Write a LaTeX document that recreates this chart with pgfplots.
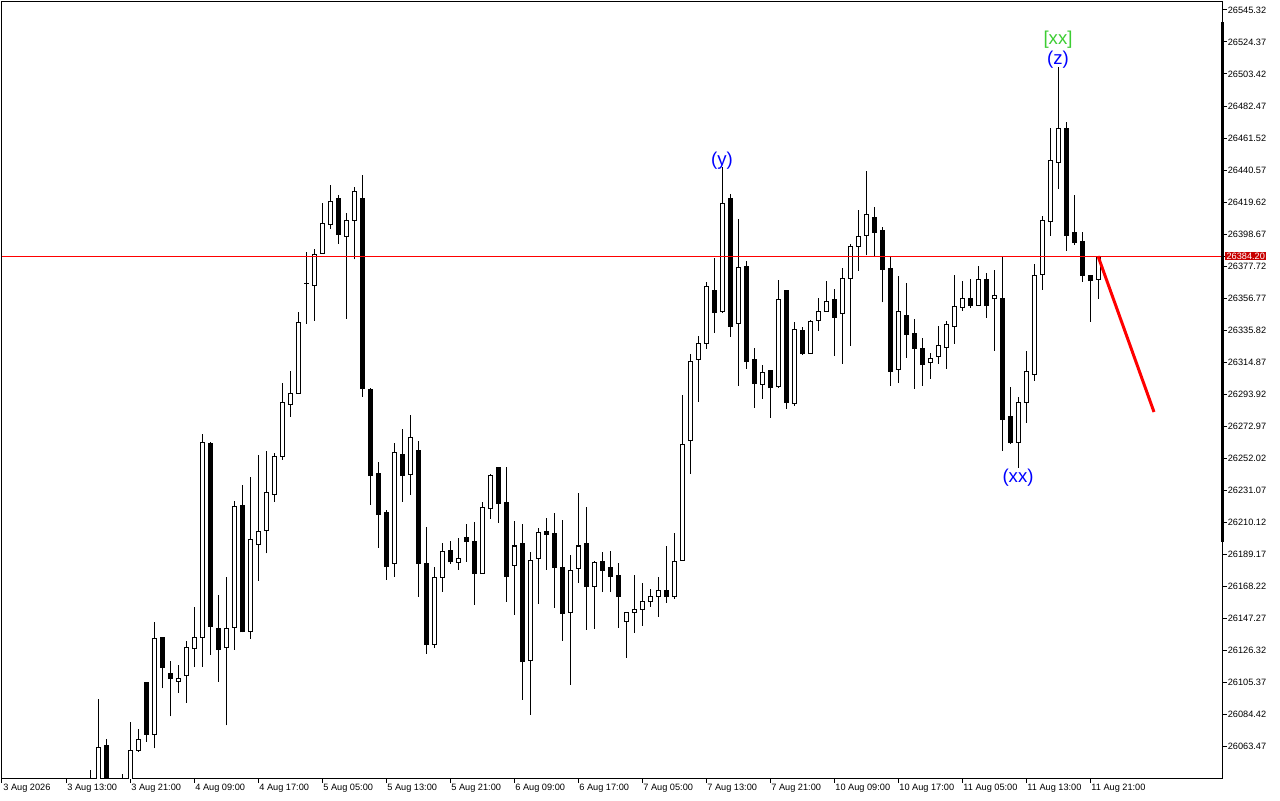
\documentclass[border=0pt]{standalone}
\usepackage{pgfplots}
\pgfplotsset{compat=1.18}
\usepackage{pgfplotstable}
\usepackage{fontspec}
\setmainfont{Liberation Sans}
\definecolor{mtred}{RGB}{200,0,0}
\definecolor{wavegreen}{RGB}{60,205,50}

% hourly candles, i = bar number (3 Aug 13:00 = -3)
\pgfplotstableread{
i o h l c
0 26038 26047.76 26025 26032
1 26035 26094.44 26028 26062.62
2 26064.12 26068.06 26022 26030
3 26030 26038 26020 26026
4 26032 26044.94 26025 26036
5 26040 26079.19 26035 26060.66
6 26060.66 26074.60 26059.55 26067.86
7 26105.37 26105.37 26066.29 26071.13
8 26071.13 26144.85 26061.97 26133.98
9 26134.83 26134.83 26101.25 26114.74
10 26110.61 26119.12 26082.91 26107.54
11 26105.83 26116.50 26098.37 26107.99
12 26109.50 26132.41 26091.82 26128.09
13 26127.18 26154.47 26115.19 26134.64
14 26134.37 26267.74 26115.39 26262.30
15 26261.84 26262.50 26123.25 26141.58
16 26140.53 26162.33 26105.57 26126.52
17 26127.83 26174.12 26077.03 26140.53
18 26141.19 26223.87 26126.52 26220.40
19 26221.06 26234.35 26137.91 26138.11
20 26138.57 26239.58 26133.72 26198.99
21 26195.52 26253.99 26171.70 26204.03
22 26204.69 26256.61 26189.63 26229.76
23 26228.26 26255.30 26223.42 26253.33
24 26253.13 26301.12 26250.91 26288.49
25 26287.18 26308.98 26279.06 26294.38
26 26294.38 26347.41 26294.38 26340.86
27 26366.14 26386.69 26339.95 26366.40
28 26364.83 26388.85 26341.91 26385.38
29 26386.04 26418.97 26386.04 26405.68
30 26405.02 26430.75 26402.14 26420.08
31 26422.05 26424.21 26392.32 26398.22
32 26397.17 26412.42 26343.22 26407.38
33 26407.64 26429.25 26382.11 26426.63
34 26422.05 26437.30 26292.16 26297.39
35 26297.00 26297.65 26221.45 26240.44
36 26241.55 26249.21 26193.30 26214.91
37 26216.02 26217.98 26172.35 26180.86
38 26183.09 26261.65 26174.31 26255.75
39 26254.45 26271.01 26223.42 26240.44
40 26241.35 26279.98 26228.00 26265.58
41 26256.61 26263.15 26161.22 26182.83
42 26183.28 26206.85 26123.91 26129.80
43 26130.06 26180.66 26127.83 26173.92
44 26173.92 26196.18 26164.49 26190.94
45 26191.59 26197.68 26182.83 26183.94
46 26183.74 26199.65 26178.90 26186.36
47 26200.30 26208.81 26183.94 26197.23
48 26197.68 26210.13 26155.98 26176.28
49 26176.28 26223.22 26176.28 26219.74
50 26218.83 26241.55 26212.29 26240.70
51 26245.48 26245.48 26209.67 26222.11
52 26222.57 26246.13 26157.75 26174.31
53 26181.78 26210.78 26149.43 26194.41
54 26195.72 26208.81 26093.79 26118.67
55 26119.58 26190.48 26083.97 26185.24
56 26186.10 26206.20 26156.64 26202.93
57 26203.58 26212.94 26178.90 26201.81
58 26202.27 26216.02 26154.02 26180.21
59 26180.66 26211.43 26132.41 26150.09
60 26151.01 26188.72 26103.61 26178.51
61 26179.81 26229.11 26170.39 26194.41
62 26195.72 26219.94 26139.42 26167.77
63 26167.77 26184.59 26140.27 26183.74
64 26184.40 26190.48 26164.29 26178.24
65 26180.01 26191.14 26164.29 26174.31
66 26175.42 26183.28 26140.92 26161.22
67 26144.85 26151.01 26121.09 26151.01
68 26151.01 26175.42 26137.65 26152.97
69 26152.97 26170.19 26142.23 26158.21
70 26157.95 26166.06 26154.67 26161.48
71 26161.22 26174.12 26148.12 26165.41
72 26165.41 26194.41 26157.29 26161.22
73 26161.22 26202.93 26159.91 26184.40
74 26185.05 26293.08 26185.05 26260.99
75 26263.35 26320.11 26241.74 26315.33
76 26316.64 26331.89 26288.88 26327.11
77 26327.11 26367.25 26323.58 26364.43
78 26361.81 26382.96 26334.06 26347.15
79 26347.80 26442.34 26347.15 26418.77
80 26422.05 26424.86 26331.44 26337.98
81 26340.21 26408.30 26299.36 26376.87
82 26377.53 26381.00 26310.49 26315.07
83 26316.64 26323.84 26284.95 26300.67
84 26300.27 26312.71 26290.85 26308.13
85 26308.98 26309.64 26278.41 26298.05
86 26298.70 26368.56 26298.05 26355.92
87 26361.36 26361.36 26284.30 26288.23
88 26287.58 26340.86 26286.27 26336.28
89 26335.82 26337.98 26319.65 26320.31
90 26320.57 26342.17 26320.57 26341.52
91 26342.17 26356.77 26335.36 26348.07
92 26348.07 26367.90 26348.07 26354.61
93 26355.92 26362.67 26319.00 26343.88
94 26346.50 26376.41 26313.76 26369.67
95 26369.67 26391.93 26325.54 26390.62
96 26390.62 26414.19 26374.65 26397.17
97 26397.82 26439.72 26384.73 26411.57
98 26409.61 26416.15 26384.07 26399.79
99 26400.64 26403.26 26353.96 26375.56
100 26375.76 26384.07 26299.36 26308.78
101 26310.09 26371.18 26301.32 26348.07
102 26345.45 26366.59 26317.69 26333.01
103 26333.66 26343.02 26297.39 26323.58
104 26323.84 26330.39 26299.36 26313.11
105 26314.68 26320.57 26303.94 26317.30
106 26318.61 26338.44 26313.76 26325.81
107 26324.50 26341.72 26310.49 26339.56
108 26337.98 26371.83 26326.86 26351.34
109 26350.69 26367.90 26348.46 26356.58
110 26356.58 26369.21 26350.42 26351.73
111 26352.00 26377.72 26352.00 26369.02
112 26369.02 26373.14 26343.88 26351.73
113 26356.32 26375.10 26322.27 26358.54
114 26356.58 26383.81 26256.80 26277.10
115 26279.32 26298.31 26261.39 26262.04
116 26262.04 26291.77 26245.67 26288.49
117 26288.49 26322.07 26275.14 26308.78
118 26306.82 26379.03 26302.63 26371.63
119 26372.29 26410.46 26362.21 26407.64
120 26406.73 26468.07 26397.56 26446.92
121 26445.62 26508.20 26428.33 26467.87
122 26467.87 26472.00 26387.74 26397.56
123 26399.79 26424.21 26391.67 26392.98
124 26393.90 26399.79 26367.45 26371.37
125 26371.63 26371.63 26341.26 26368.10
126 26369.02 26384.20 26356.32 26384.20
}\candles

\begin{document}
\begin{tikzpicture}
\begin{axis}[
  at={(1pt,11pt)}, anchor=south west,
  scale only axis, width=610pt, height=388pt,
  xmin=-11, xmax=141.5, ymin=26042.52, ymax=26550.56,
  clip mode=individual,
  scaled x ticks=false, scaled y ticks=false,
  axis line style={black, line width=0.5pt},
  tick align=outside,
  major tick length=2.3pt,
  tick style={black, line width=0.5pt},
  xtick pos=left, ytick pos=right,
  xticklabel pos=left, yticklabel pos=right,
  xtick={-11,-3,...,125},
  xticklabels={3 Aug 2026, 3 Aug 13:00, 3 Aug 21:00, 4 Aug 09:00, 4 Aug 17:00,
    5 Aug 05:00, 5 Aug 13:00, 5 Aug 21:00, 6 Aug 09:00, 6 Aug 17:00,
    7 Aug 05:00, 7 Aug 13:00, 7 Aug 21:00, 10 Aug 09:00, 10 Aug 17:00,
    11 Aug 05:00, 11 Aug 13:00, 11 Aug 21:00},
  xticklabel style={font=\fontsize{4.6}{5.4}\selectfont, anchor=north west,
    inner sep=0pt, xshift=0.5pt, yshift=-0.3pt},
  ytick={26063.47,26084.42,26105.37,26126.32,26147.27,26168.22,26189.17,
    26210.12,26231.07,26252.02,26272.97,26293.92,26314.87,26335.82,26356.77,
    26377.72,26398.67,26419.62,26440.57,26461.52,26482.47,26503.42,26524.37,
    26545.32},
  yticklabels={26063.47,26084.42,26105.37,26126.32,26147.27,26168.22,26189.17,
    26210.12,26231.07,26252.02,26272.97,26293.92,26314.87,26335.82,26356.77,
    26377.72,26398.67,26419.62,26440.57,26461.52,26482.47,26503.42,26524.37,
    26545.32},
  yticklabel style={font=\fontsize{4.6}{5.4}\selectfont, anchor=west,
    inner sep=0pt, xshift=0.4pt},
  extra y ticks={26384.20},
  extra y tick labels={26384.20},
  extra y tick style={yticklabel style={fill=mtred, text=white,
    inner xsep=0.6pt, inner ysep=0.5pt, xshift=-1.2pt}},
]
% wicks
\addplot[draw=none, forget plot, error bars/.cd, y dir=plus, y explicit,
  error mark=none, error bar style={draw=black, line width=0.5pt}]
  table[x=i, y=l, y error plus expr={\thisrow{h}-\thisrow{l}}] {\candles};
% bodies
\addplot[draw=none, forget plot, error bars/.cd, y dir=plus, y explicit,
  error mark=none, error bar style={draw=black, line width=2.5pt}]
  table[x=i, y expr={min(\thisrow{o},\thisrow{c})-0.327},
    y error plus expr={abs(\thisrow{c}-\thisrow{o})+0.655}] {\candles};
% hollow inside of rising candles
\addplot[draw=none, forget plot, error bars/.cd, y dir=plus, y explicit,
  error mark=none, error bar style={draw=white, line width=1.5pt}]
  table[x=i, y expr={min(\thisrow{o},\thisrow{c})+0.327},
    y error plus expr={(\thisrow{c}>\thisrow{o})*max(\thisrow{c}-\thisrow{o}-0.655,0)}] {\candles};
% bid line and trend line
\addplot[red, line width=0.5pt] coordinates {(-11,26384.20) (141.5,26384.20)};
\addplot[red, line width=1.5pt] coordinates {(126,26384.20) (133,26282.13)};
% wave labels
\node[text=blue, font=\fontsize{9.3}{11}\selectfont] at (axis cs:79,26446.5) {(y)};
\node[text=blue, font=\fontsize{9.3}{11}\selectfont] at (axis cs:116,26239.0) {(xx)};
\node[text=blue, font=\fontsize{9.3}{11}\selectfont] at (axis cs:121,26512.6) {(z)};
\node[text=wavegreen, font=\fontsize{9.3}{11}\selectfont] at (axis cs:121,26525.7) {[xx]};
\draw[line width=1.5pt] (axis cs:141.5,26537.46) -- (axis cs:141.5,26197.03);
\end{axis}
\pgfresetboundingbox
\path[use as bounding box] (0pt,0pt) rectangle (640pt,400pt);
\end{tikzpicture}
\end{document}
